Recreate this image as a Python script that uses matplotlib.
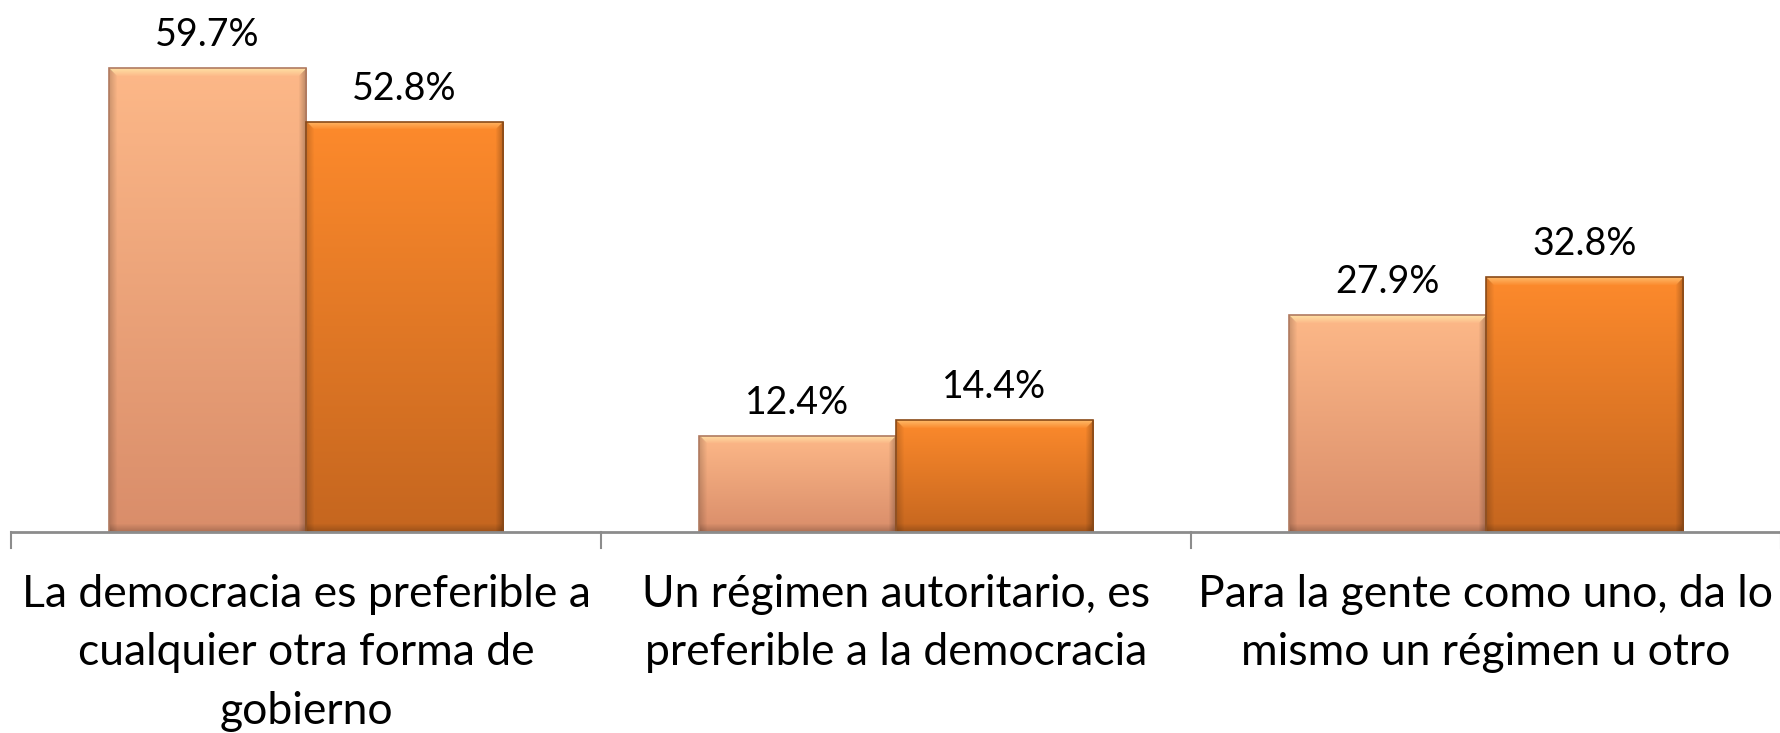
import numpy as np
import matplotlib
matplotlib.use("Agg")
import matplotlib.pyplot as plt
from matplotlib.colors import to_rgb

categories = [
    "La democracia es preferible a\ncualquier otra forma de\ngobierno",
    "Un régimen autoritario, es\npreferible a la democracia",
    "Para la gente como uno, da lo\nmismo un régimen u otro",
]
series_a = [59.7, 12.4, 27.9]
series_b = [52.8, 14.4, 32.8]
labels_a = ["59.7%", "12.4%", "27.9%"]
labels_b = ["52.8%", "14.4%", "32.8%"]

plt.rcParams['font.family'] = ['Lato', 'DejaVu Sans']

W, H = 1781, 733
fig = plt.figure(figsize=(W / 100, H / 100), dpi=100)
px_per_unit = 7.77
base_y = 532
ax = fig.add_axes([11 / W, 1 - base_y / H, (W - 11) / W, base_y / H])
ax.set_xlim(-0.5, 2.5)
ax.set_ylim(0, base_y / px_per_unit)
ax.axis('off')

x = np.arange(len(categories))
bw = 0.334

styles = [
    dict(top="#FDB888", bot="#D98D6A", hi="#FFE6A8", edge="#B07A60"),
    dict(top="#FD8A2C", bot="#C5661F", hi="#FFC070", edge="#8A4A18"),
]


def fill_bar(rect, st):
    x0, y0 = rect.get_x(), rect.get_y()
    w, h = rect.get_width(), rect.get_height()
    rows = max(int(h * px_per_unit), 2)
    cols = 197
    t = np.linspace(0, 1, rows)[:, None, None]
    top = np.array(to_rgb(st["top"]))
    bot = np.array(to_rgb(st["bot"]))
    img = top * (1 - t) + bot * t
    img = np.repeat(img, cols, axis=1)
    bev = 8
    hi = np.array(to_rgb(st["hi"]))
    for r in range(min(bev, rows)):
        a = 0.85 * (1 - r / bev)
        img[r, r:cols - r] = img[r, r:cols - r] * (1 - a) + hi * a
    for c in range(bev):
        a = 0.18 * (1 - c / bev)
        img[c:, c] = img[c:, c] * (1 - a)
        img[c:, cols - 1 - c] = img[c:, cols - 1 - c] * (1 - a * 1.5)
    for r in range(min(bev, rows)):
        a = 0.2 * (1 - r / bev)
        rr = rows - 1 - r
        img[rr, :] = img[rr, :] * (1 - a)
    img = np.clip(img, 0, 1)
    im = ax.imshow(img, extent=(x0, x0 + w, y0, y0 + h), aspect='auto',
                   origin='upper', zorder=2, interpolation='bilinear')
    im.set_clip_path(rect)


for vals, labs, off, st in [(series_a, labels_a, -bw / 2, styles[0]),
                            (series_b, labels_b, bw / 2, styles[1])]:
    bars = ax.bar(x + off, vals, width=bw, facecolor='none',
                  edgecolor=st["edge"], linewidth=1.2, zorder=3)
    for rect, lab in zip(bars, labs):
        fill_bar(rect, st)
        ax.text(rect.get_x() + rect.get_width() / 2, rect.get_height() + 1.9,
                lab, ha='center', va='bottom', fontsize=27, color='black')

ax.plot([-0.5, 2.5], [0, 0], color='#8C8C8C', lw=2, zorder=4, clip_on=False)
tick_len = 16 / px_per_unit
for xt in [-0.5, 0.5, 1.5, 2.5]:
    ax.plot([xt, xt], [0, -tick_len], color='#8C8C8C', lw=1.5, clip_on=False)

for xi, cat in zip(x, categories):
    ax.text(xi, -42 / px_per_unit, cat, ha='center', va='top', fontsize=32,
            linespacing=1.53, color='black')

fig.savefig("out.png", dpi=100)
